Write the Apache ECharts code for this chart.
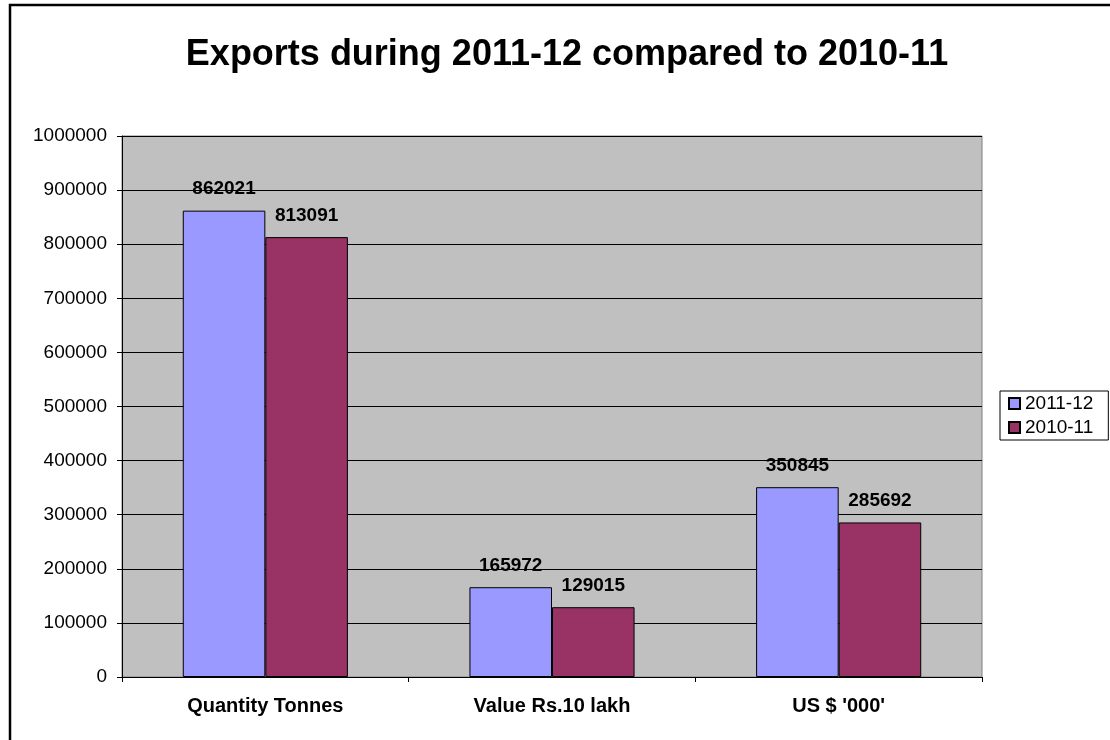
<!DOCTYPE html>
<html>
<head>
<meta charset="utf-8">
<title>Exports during 2011-12 compared to 2010-11</title>
<script src="https://cdn.jsdelivr.net/npm/echarts@6/dist/echarts.min.js"></script>
<style>
  html, body { margin: 0; padding: 0; background: #ffffff; }
  #chart { width: 1110px; height: 740px; }
</style>
</head>
<body>
<div id="chart"></div>
<script>
// Export figures for the two years, per measure
const categories = ['Quantity Tonnes', 'Value Rs.10 lakh', "US $ '000'"];
const seriesNames = ['2011-12', '2010-11'];
const values2011_12 = [862021, 165972, 350845];
const values2010_11 = [813091, 129015, 285692];
const yTicks = [0, 100000, 200000, 300000, 400000, 500000, 600000, 700000, 800000, 900000, 1000000];

const FONT = '"Liberation Sans", Arial, sans-serif';
const colors = ['#9999FF', '#993366'];

const chart = echarts.init(document.getElementById('chart'), null, { renderer: 'canvas' });

function barSeries(name, data, color) {
  return {
    name: name,
    type: 'bar',
    data: data,
    barGap: '0%',
    barCategoryGap: '42.4%',
    itemStyle: { color: color, borderColor: '#000000', borderWidth: 1 },
    label: {
      show: true,
      position: 'top',
      distance: 12,
      color: '#000000',
      fontFamily: FONT,
      fontWeight: 'bold',
      fontSize: 19
    },
    emphasis: { disabled: true },
    animation: false
  };
}

chart.setOption({
  backgroundColor: '#ffffff',
  animation: false,
  title: {
    text: 'Exports during 2011-12 compared to 2010-11',
    left: 562,
    top: 32,
    textAlign: 'center',
    textStyle: { fontFamily: FONT, fontWeight: 'bold', fontSize: 36, color: '#000000' }
  },
  graphic: [{
    type: 'rect',
    silent: true,
    shape: { x: 10, y: 5, width: 1130, height: 760 },
    style: { fill: 'none', stroke: '#000000', lineWidth: 2.5 },
    z: 100
  }],
  legend: {
    orient: 'vertical',
    left: 1000,
    top: 391,
    padding: [3, 15, 3, 8],
    borderColor: '#000000',
    borderWidth: 1,
    itemWidth: 11,
    itemHeight: 11,
    itemGap: 5,
    itemTextGap: 7,
    icon: 'rect',
    data: seriesNames,
    textStyle: { fontFamily: FONT, fontSize: 19, color: '#000000' }
  },
  grid: {
    left: 122,
    top: 136,
    right: 128,
    bottom: 63,
    show: true,
    backgroundColor: '#C0C0C0',
    borderColor: '#808080',
    borderWidth: 1,
    containLabel: false
  },
  xAxis: {
    type: 'category',
    data: categories,
    axisLine: { show: true, lineStyle: { color: '#000000', width: 1 } },
    axisTick: { show: true, length: 5, alignWithLabel: false, lineStyle: { color: '#000000' } },
    axisLabel: {
      margin: 19,
      color: '#000000',
      fontFamily: FONT,
      fontWeight: 'bold',
      fontSize: 20
    },
    splitLine: { show: false }
  },
  yAxis: {
    type: 'value',
    min: yTicks[0],
    max: yTicks[yTicks.length - 1],
    interval: yTicks[1] - yTicks[0],
    axisLine: { show: true, lineStyle: { color: '#000000', width: 1 } },
    axisTick: { show: true, length: 5, lineStyle: { color: '#000000' } },
    axisLabel: {
      margin: 15,
      color: '#000000',
      fontFamily: FONT,
      fontSize: 19,
      formatter: function (v) { return String(v); }
    },
    splitLine: { show: true, lineStyle: { color: '#000000', width: 1 } }
  },
  series: [
    barSeries(seriesNames[0], values2011_12, colors[0]),
    barSeries(seriesNames[1], values2010_11, colors[1])
  ]
});
</script>
</body>
</html>
